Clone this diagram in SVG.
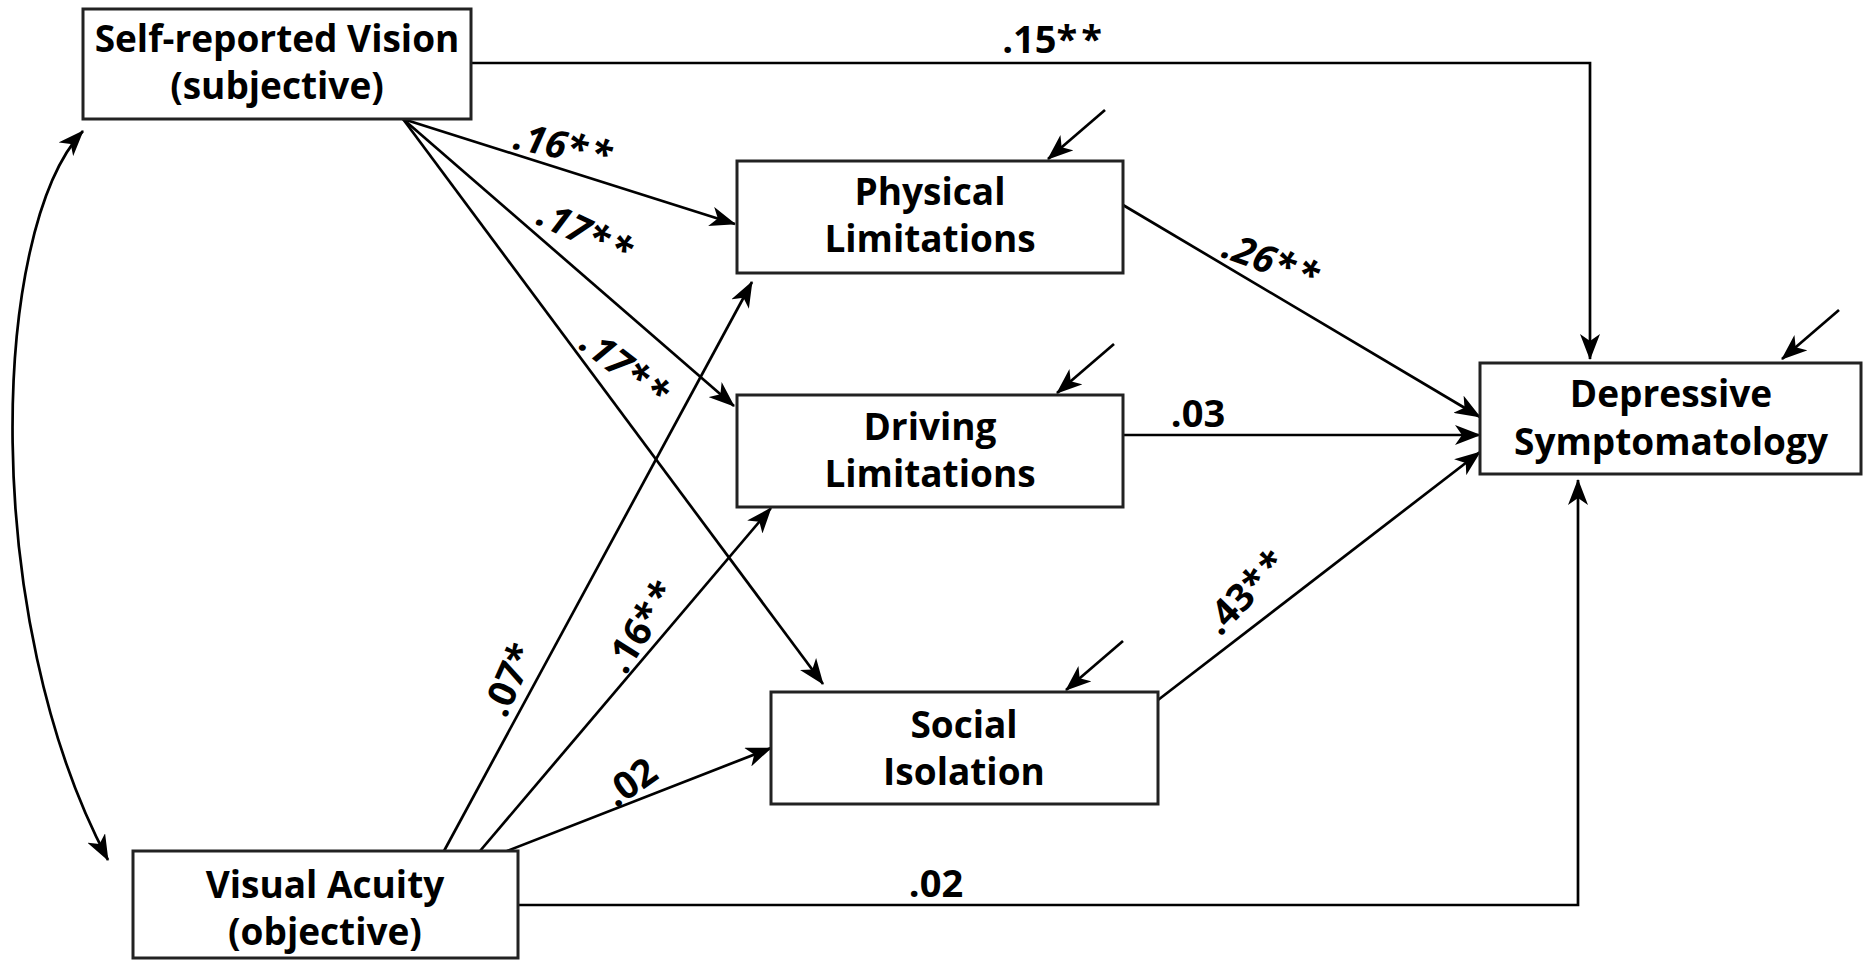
<svg xmlns="http://www.w3.org/2000/svg" width="1864" height="960" viewBox="0 0 1864 960">
<defs>
<marker id="ah" markerUnits="userSpaceOnUse" markerWidth="27" markerHeight="20" refX="25" refY="10" orient="auto-start-reverse" viewBox="0 0 27 20">
<path d="M0,0 L26,10 L0,20 L7,10 Z" fill="#000"/>
</marker>
</defs>
<style>
.box{fill:#fff;stroke:#222;stroke-width:3}
.nt{font-family:"Open Sans","Liberation Sans",sans-serif;font-weight:700;font-size:37px;text-anchor:middle;fill:#000}
.lb{font-family:"Open Sans","Liberation Sans",sans-serif;font-weight:700;font-size:38px;text-anchor:middle;fill:#000}
.it{font-style:italic}
.s{letter-spacing:4px}
.c{fill:none;stroke:#000;stroke-width:2.7;marker-end:url(#ah)}
</style>
<rect width="1864" height="960" fill="#fff"/>
<g id="connectors">
<path class="c" d="M471,63 H1590 V359"/>
<path class="c" d="M403,119 L735,224"/>
<path class="c" d="M403,119 L734,406"/>
<path class="c" d="M403,119 L823,684"/>
<path class="c" d="M1123,205 L1480,417"/>
<path class="c" d="M1123,435 L1480,435"/>
<path class="c" d="M1158,700 L1480,452"/>
<path class="c" d="M444,851 L752,282"/>
<path class="c" d="M480,851 L771,508"/>
<path class="c" d="M507,851 L771,748"/>
<path class="c" d="M518,905 H1578 V480"/>
<path class="c" d="M83,131 C -10,230 -20,620 108,860" style="marker-start:url(#ah)"/>
<path class="c" d="M1105,110 L1048,159"/>
<path class="c" d="M1114,344 L1057,393"/>
<path class="c" d="M1123,641 L1066,690"/>
<path class="c" d="M1839,310 L1782,359"/>
</g>
<g id="labels">
<text class="lb" x="1054" y="53">.15<tspan class="s">**</tspan></text>
<text class="lb it" transform="translate(562,159) rotate(12)">.16<tspan class="s">**</tspan></text>
<text class="lb it" transform="translate(581,245) rotate(25)">.17<tspan class="s">**</tspan></text>
<text class="lb it" transform="translate(618,379) rotate(38)">.17<tspan class="s">**</tspan></text>
<text class="lb it" transform="translate(1268,274) rotate(20)">.26<tspan class="s">**</tspan></text>
<text class="lb" x="1198" y="427">.03</text>
<text class="lb" transform="translate(1256,600) rotate(-46)">.43<tspan class="s">**</tspan></text>
<text class="lb" transform="translate(521,685) rotate(-66)">.07*</text>
<text class="lb" transform="translate(653,632) rotate(-58)">.16<tspan class="s">**</tspan></text>
<text class="lb" transform="translate(638,793) rotate(-35)">.02</text>
<text class="lb" x="936" y="897">.02</text>
</g>
<g id="self-reported">
<rect class="box" x="83" y="9" width="388" height="110"/>
<text class="nt" x="277" y="52">Self-reported Vision</text>
<text class="nt" x="277" y="99">(subjective)</text>
</g>
<g id="physical">
<rect class="box" x="737" y="161" width="386" height="112"/>
<text class="nt" x="930" y="205">Physical</text>
<text class="nt" x="930" y="252">Limitations</text>
</g>
<g id="driving">
<rect class="box" x="737" y="395" width="386" height="112"/>
<text class="nt" x="930" y="440">Driving</text>
<text class="nt" x="930" y="487">Limitations</text>
</g>
<g id="social">
<rect class="box" x="771" y="692" width="387" height="112"/>
<text class="nt" x="964" y="738">Social</text>
<text class="nt" x="964" y="785">Isolation</text>
</g>
<g id="depressive">
<rect class="box" x="1480" y="363" width="381" height="111"/>
<text class="nt" x="1671" y="407">Depressive</text>
<text class="nt" x="1671" y="455">Symptomatology</text>
</g>
<g id="visual-acuity">
<rect class="box" x="133" y="851" width="385" height="107"/>
<text class="nt" x="325" y="898">Visual Acuity</text>
<text class="nt" x="325" y="945">(objective)</text>
</g>
</svg>
